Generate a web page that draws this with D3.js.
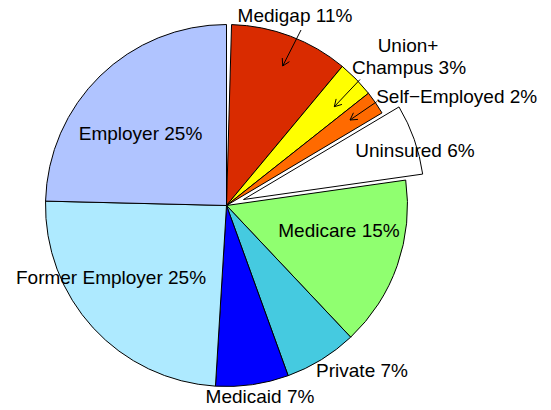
<!DOCTYPE html>
<html>
<head>
<meta charset="utf-8">
<script src="https://cdn.jsdelivr.net/npm/d3@7"></script>
<style>
  body { margin: 0; background: #fff; }
  text { font-family: "Liberation Sans", Arial, Helvetica, sans-serif; font-size: 19px; fill: #000; }
</style>
</head>
<body>
<div id="chart"></div>
<script>
// slices, clockwise from 12 o'clock
var categories = ["Medigap", "Union+ Champus", "Self\u2212Employed", "Uninsured", "Medicare",
  "Private", "Medicaid", "Former Employer", "Employer"];
var shares = [10.6, 3.3, 2.1, 6.3, 15.2, 6.5, 6.5, 24.4, 24.6];
var pctLabels = ["11%", "3%", "2%", "6%", "15%", "7%", "7%", "25%", "25%"];
var colors = ["#d92b00", "#ffff00", "#ff6a00", "#ffffff", "#90ff70",
  "#45cae0", "#0000ff", "#aeeaff", "#b0c4ff"];
var exploded = "Uninsured";

var w = 551;
var h = 410;
var cx = 226.5;
var cy = 205.5;
var radius = 181;
var gap = 1.6 * Math.PI / 180;
var explodeDist = 18;

// label anchor offsets from pie centre (text lines, baseline)
var labelPos = {
  "Medigap": [[68.5, -183.8]],
  "Union+ Champus": [[181.5, -153.8], [182.5, -131.5]],
  "Self\u2212Employed": [[230.2, -102.2]],
  "Uninsured": [[188.5, -48.2]],
  "Medicare": [[112.5, 31.2]],
  "Private": [[135.5, 171.8]],
  "Medicaid": [[33.5, 197]],
  "Former Employer": [[-115.5, 78.5]],
  "Employer": [[-86, -66]]
};
// arrows from label to slice, offsets from pie centre
var arrowPos = {
  "Medigap": [[74.5, -175.5], [56.2, -139.5]],
  "Union+ Champus": [[133.5, -126], [107.8, -98.8]],
  "Self\u2212Employed": [[150.2, -103.8], [123.5, -85.5]]
};

var svg = d3.select("#chart").append("svg").attr("width", w).attr("height", h);
var g = svg.append("g").attr("transform", "translate(" + cx + "," + cy + ")");

var pie = d3.pie().sort(null).startAngle(gap).endAngle(2 * Math.PI);
var arcs = pie(shares).map(function (d, i) {
  d.name = categories[i];
  return d;
});
var arc = d3.arc().innerRadius(0).outerRadius(radius);

g.selectAll("path.slice")
  .data(arcs)
  .enter()
  .append("path")
  .attr("class", "slice")
  .attr("d", arc)
  .attr("transform", function (d) {
    if (d.name !== exploded) return null;
    var a = (d.startAngle + d.endAngle) / 2;
    return "translate(" + explodeDist * Math.sin(a) + "," + (-explodeDist * Math.cos(a)) + ")";
  })
  .attr("fill", function (d, i) {
    return colors[i];
  })
  .attr("stroke", "#000")
  .attr("stroke-width", 1)
  .attr("stroke-linejoin", "round");

// labels
arcs.forEach(function (d, i) {
  var pos = labelPos[d.name];
  var lines;
  if (pos.length === 2) {
    var parts = d.name.split(" ");
    lines = [parts[0], parts[1] + " " + pctLabels[i]];
  } else {
    lines = [d.name + " " + pctLabels[i]];
  }
  lines.forEach(function (t, k) {
    g.append("text")
      .attr("x", pos[k][0])
      .attr("y", pos[k][1])
      .attr("text-anchor", "middle")
      .text(t);
  });
});

// arrows
var headLen = 8;
var headAng = 30 * Math.PI / 180;
Object.keys(arrowPos).forEach(function (k) {
  var p0 = arrowPos[k][0];
  var p1 = arrowPos[k][1];
  var ang = Math.atan2(p1[1] - p0[1], p1[0] - p0[0]);
  g.append("line")
    .attr("x1", p0[0]).attr("y1", p0[1])
    .attr("x2", p1[0]).attr("y2", p1[1])
    .attr("stroke", "#000").attr("stroke-width", 1);
  var hp = [ang + Math.PI - headAng, ang + Math.PI + headAng].map(function (a) {
    return [p1[0] + headLen * Math.cos(a), p1[1] + headLen * Math.sin(a)];
  });
  g.append("path")
    .attr("d", d3.line()([hp[0], p1, hp[1]]))
    .attr("fill", "none")
    .attr("stroke", "#000").attr("stroke-width", 1);
});
</script>
</body>
</html>
